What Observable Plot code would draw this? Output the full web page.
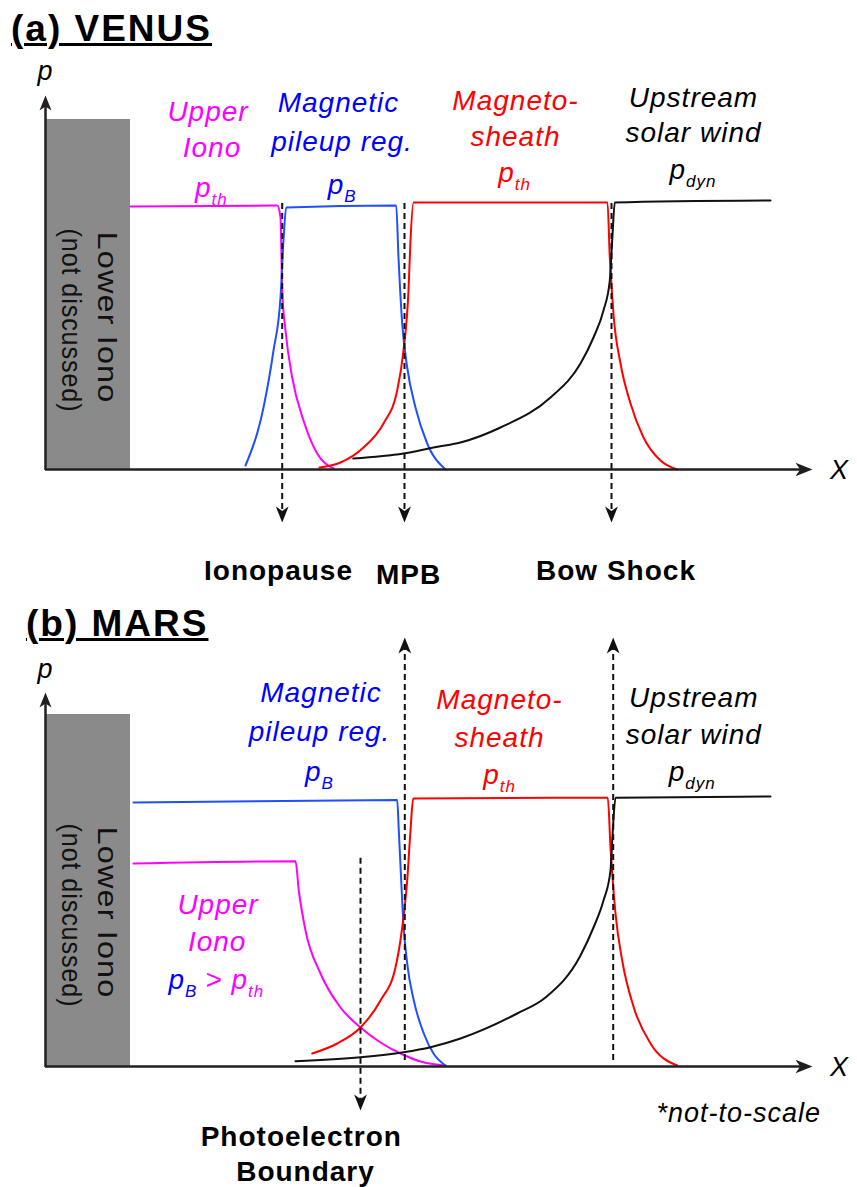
<!DOCTYPE html>
<html><head><meta charset="utf-8">
<script src="https://cdn.jsdelivr.net/npm/d3@7"></script>
<script src="https://cdn.jsdelivr.net/npm/@observablehq/plot@0.6"></script>
<style>
body{margin:0;background:#fff;}
#wrap{position:relative;width:857px;height:1187px;overflow:hidden;background:#fff;}
.title{position:absolute;font:bold 37px/37px "Liberation Sans",Arial,sans-serif;letter-spacing:2px;text-decoration:underline;text-decoration-thickness:3px;text-underline-offset:2px;white-space:nowrap;color:#000;}
#wrap svg{overflow:visible;display:block;}
</style></head><body>
<div id="wrap"><div id="pa"></div><div id="pb"></div>
<div class="title" style="left:11px;top:10px">(a) VENUS</div>
<div class="title" style="left:26px;top:605px">(b) MARS</div>
</div>
<script>
// ---------- DATA (schematic, arbitrary units: x = distance from planet, p = pressure) ----------
// Panel (a) VENUS : [x, p]
const venusUpperIono = [[85,263],[231.7,264],[235,252],[236.7,179],[240,139],[246.7,92],[258,49],[271.7,16],[288,1]];
const venusPileup = [[200,4],[218,62],[228,119],[235,172],[238,229],[240.7,262],[350.7,264],[353,212],[356.7,146],[361.7,102],[370,62],[381.7,26],[400,0]];
const venusSheath = [[274,2],[295,7],[318,22],[338,46],[351.7,79],[358,119],[363,179],[365,229],[368,267],[562,267],[564.3,212],[565.7,189],[568.3,152],[575,106],[585,66],[598,32],[615,9],[631.7,0]];
const venusSolarWind = [[307.7,11],[358,16],[388,22],[415,27],[455,42],[505,72],[535,106],[548,132],[558,159],[564.3,189],[566.7,229],[569.3,267],[725,269]];
const venusBoundaries = [
  {name:"Ionopause", x:236.7, from:266, tip:-53},
  {name:"MPB", x:359, from:266, tip:-53},
  {name:"Bow Shock", x:566, from:266, tip:-53}
];
const venusBoundaryLabels = [
  {text:"Ionopause", x:233, y:-110.3},
  {text:"MPB", x:363, y:-114.3},
  {text:"Bow Shock", x:570.5, y:-110.3}
];
const venusRegionLabels = [
  {region:"iono", text:"Upper", x:162.5, y:348.3},
  {region:"iono", text:"Iono", x:166.5, y:312.3},
  {region:"iono", text:"p_th", x:165.8, y:273},
  {region:"pileup", text:"Magnetic", x:293, y:357.3},
  {region:"pileup", text:"pileup reg.", x:296.5, y:319},
  {region:"pileup", text:"p_B", x:296.7, y:275.7},
  {region:"sheath", text:"Magneto-", x:470, y:359.7},
  {region:"sheath", text:"sheath", x:470, y:324},
  {region:"sheath", text:"p_th", x:469, y:287.3},
  {region:"wind", text:"Upstream", x:648, y:362.3},
  {region:"wind", text:"solar wind", x:648, y:327.3},
  {region:"wind", text:"p_dyn", x:647.5, y:290.7}
];
const venusLowerIono = {x1:1, x2:85, top:350};
const venusLowerIonoText = [{text:"Lower Iono", x:61.7, y:152}, {text:"(not discussed)", x:25, y:149}];

// Panel (b) MARS : [x, p]
const marsUpperIono = [[88,203],[250,205.3],[253.3,176],[260,136],[275,93],[295,59],[315,39],[335,24],[355,13],[375,5],[400,1]];
const marsPileup = [[88,264],[351.7,266.5],[353.3,236],[355.7,186],[357.7,146],[361.7,103],[368.3,66],[378.3,33],[388,13],[400,1]];
const marsSheath = [[266.7,13],[291.7,23],[315,39],[335,66],[350,99],[356.7,139],[361.7,186],[365,236],[367.7,268],[562.3,268.7],[565,219],[566.7,193],[570,153],[576.7,106],[588.3,59],[605,23],[631.7,1]];
const marsSolarWind = [[250,5.3],[315,9.3],[358,14.3],[385,19.3],[415,28],[471.7,53],[500,69],[535,111],[548,139],[558,166],[565,196],[567.3,236],[570,268.7],[725,270]];
const marsBoundaries = [
  {name:"Photoelectron Boundary", x:315, from:208.3, tip:-44},
  {name:"MPB", x:359.3, from:6, tip:429},
  {name:"Bow Shock", x:567.7, from:6, tip:429}
];
const marsBoundaryLabels = [
  {text:"Photoelectron", x:255.8, y:-79},
  {text:"Boundary", x:260, y:-114}
];
const marsRegionLabels = [
  {region:"iono", text:"Upper", x:172.5, y:152.7},
  {region:"iono", text:"Iono", x:171.7, y:115.3},
  {region:"pileup", text:"p_B", x:137.5, y:77.7},
  {region:"iono", text:"> p_th", x:189.2, y:77.7},
  {region:"pileup", text:"Magnetic", x:275.5, y:364.3},
  {region:"pileup", text:"pileup reg.", x:274, y:326},
  {region:"pileup", text:"p_B", x:274, y:286},
  {region:"sheath", text:"Magneto-", x:454, y:357.7},
  {region:"sheath", text:"sheath", x:454, y:319.3},
  {region:"sheath", text:"p_th", x:454, y:282.7},
  {region:"wind", text:"Upstream", x:648.3, y:359.3},
  {region:"wind", text:"solar wind", x:648.3, y:322.7},
  {region:"wind", text:"p_dyn", x:646.7, y:286}
];
const marsLowerIono = {x1:1, x2:85, top:352};
const marsLowerIonoText = [{text:"Lower Iono", x:61.7, y:154}, {text:"(not discussed)", x:25, y:151}];
const marsNote = [{text:"*not-to-scale", x:693.3, y:-55.7}];

// axes (arbitrary units)
const X_END = 767;
const Y_TIP = 374;

// ---------- STYLE ----------
const FONT = "'Liberation Sans', Arial, Helvetica, sans-serif";
const TEXT_COLORS = {iono:"#ff00ff", pileup:"#0000ff", sheath:"#ff0000", wind:"#000000"};
const LINE_COLORS = {iono:"#ff00ff", pileup:"#1f4fff", sheath:"#ff0000", wind:"#111111"};
const LOWER_LEN = {"Lower Iono": 172, "(not discussed)": 184};
const AXIS = "#231f20";

const arrowHead = {
  draw(ctx, size) {
    const r = Math.sqrt(size / Math.PI);
    const L = 2 * r, W = 0.8 * r, N = 1.45 * r;
    ctx.moveTo(0, 0); ctx.lineTo(W, L); ctx.lineTo(0, N); ctx.lineTo(-W, L); ctx.closePath();
  }
};

function drawPanel(target, cfg) {
  const curveMarks = cfg.curves.map(([region, pts]) =>
    Plot.line(pts, {x: d => d[0], y: d => d[1], stroke: LINE_COLORS[region], strokeWidth: 2, curve: "monotone-x"}));
  const b = cfg.boundaries.map(d => ({...d, end: d.tip > d.from ? d.tip - 9 : d.tip + 9, rot: d.tip > d.from ? 0 : 180}));
  const svg = Plot.plot({
    width: 857, height: cfg.height,
    marginLeft: 45, marginRight: 45, marginTop: cfg.marginTop, marginBottom: cfg.marginBottom,
    x: {domain: [0, X_END], axis: null},
    y: {domain: [0, 394], axis: null},
    color: {type: "identity"},
    style: {fontFamily: FONT, letterSpacing: "1px", overflow: "visible", background: "transparent"},
    marks: [
      Plot.rect([cfg.lowerIono], {x1: d => d.x1, x2: d => d.x2, y1: 0, y2: d => d.top, fill: "#8a8a8a"}),
      Plot.text(cfg.lowerIonoText, {x: "x", y: "y", text: "text", rotate: 90, fontSize: 28, textAnchor: "middle", lineAnchor: "middle", fill: "#111"}),
      ...curveMarks,
      Plot.ruleX(b, {x: "x", y1: "from", y2: "end", stroke: "#111", strokeWidth: 2, strokeDasharray: "6,4"}),
      Plot.dot(b, {x: "x", y: "tip", symbol: arrowHead, r: 8, rotate: "rot", fill: "#111", stroke: "none"}),
      Plot.ruleY([0], {x1: 0, x2: X_END - 10, stroke: AXIS, strokeWidth: 2.5}),
      Plot.ruleX([0], {y1: -1, y2: Y_TIP - 9, stroke: AXIS, strokeWidth: 2.5}),
      Plot.dot([{x: X_END, y: 0, rot: 90}], {x: "x", y: "y", rotate: "rot", symbol: arrowHead, r: 8.5, fill: AXIS, stroke: "none"}),
      Plot.dot([{x: 0, y: Y_TIP, rot: 0}], {x: "x", y: "y", rotate: "rot", symbol: arrowHead, r: 7.5, fill: AXIS, stroke: "none"}),
      Plot.text([{t: "X", x: 794, y: -9}], {x: "x", y: "y", text: "t", fontSize: 27, fontStyle: "italic", textAnchor: "middle", lineAnchor: "bottom", fill: "#000"}),
      Plot.text([{t: "p", x: 0, y: cfg.pLabelY}], {x: "x", y: "y", text: "t", fontSize: 27, fontStyle: "italic", textAnchor: "middle", lineAnchor: "bottom", fill: "#000"}),
      Plot.text(cfg.regionLabels, {x: "x", y: "y", text: "text", fill: d => TEXT_COLORS[d.region], fontSize: 28, fontStyle: "italic", textAnchor: "middle", lineAnchor: "bottom"}),
      Plot.text(cfg.boundaryLabels, {x: "x", y: "y", text: "text", fontSize: 28, fontWeight: "bold", textAnchor: "middle", lineAnchor: "bottom", fill: "#000"}),
      Plot.text(cfg.note || [], {x: "x", y: "y", text: "text", fontSize: 27, fontStyle: "italic", textAnchor: "middle", lineAnchor: "bottom", fill: "#000"})
    ]
  });
  d3.select(svg).selectAll("text").each(function () {
    const t = this.textContent;
    if (LOWER_LEN[t]) {
      this.setAttribute("textLength", LOWER_LEN[t]);
      this.setAttribute("lengthAdjust", "spacingAndGlyphs");
    }
    if (t.includes("_")) {
      const [base, sub] = t.split("_");
      const el = d3.select(this);
      el.text(null);
      el.append("tspan").text(base);
      el.append("tspan").attr("font-size", "17px").attr("dy", "8px").text(sub);
    }
  });
  document.getElementById(target).appendChild(svg);
}

drawPanel("pa", {
  height: 598, marginTop: 75, marginBottom: 129, pLabelY: 390,
  curves: [["iono", venusUpperIono], ["pileup", venusPileup], ["sheath", venusSheath], ["wind", venusSolarWind]],
  boundaries: venusBoundaries, boundaryLabels: venusBoundaryLabels, regionLabels: venusRegionLabels,
  lowerIono: venusLowerIono, lowerIonoText: venusLowerIonoText
});
drawPanel("pb", {
  height: 589, marginTop: 74, marginBottom: 121, pLabelY: 389,
  curves: [["iono", marsUpperIono], ["pileup", marsPileup], ["sheath", marsSheath], ["wind", marsSolarWind]],
  boundaries: marsBoundaries, boundaryLabels: marsBoundaryLabels, regionLabels: marsRegionLabels,
  lowerIono: marsLowerIono, lowerIonoText: marsLowerIonoText, note: marsNote
});
</script>
</body></html>
